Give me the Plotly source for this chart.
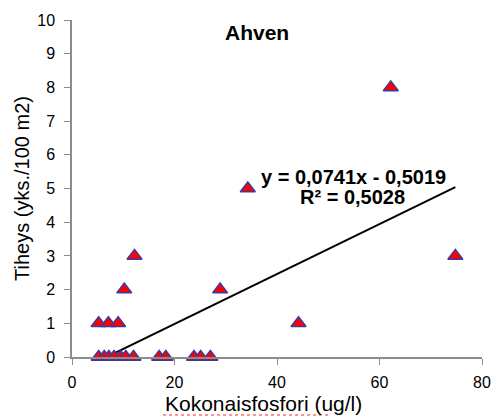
import plotly.graph_objects as go

# Data
fosfori = [5.2, 6.3, 7.2, 8.2, 9.5, 10.5, 12.0,
           5.2, 7.1, 9.0,
           10.2, 12.2,
           17.0, 18.3,
           23.8, 25.1, 27.0,
           28.9, 34.3, 44.2, 62.2, 74.8]
tiheys = [0, 0, 0, 0, 0, 0, 0,
          1, 1, 1,
          2, 3,
          0, 0,
          0, 0, 0,
          2, 5, 1, 8, 3]

slope = 0.0741
intercept = -0.5019
r2_text = "R² = 0,5028"
eq_text = "y = 0,0741x - 0,5019"
title_text = "Ahven"
x_title = "Kokonaisfosfori (ug/l)"
y_title = "Tiheys (yks./100 m2)"
x_ticks = [0, 20, 40, 60, 80]
y_ticks = list(range(0, 11))

FONT = "Liberation Sans, Arial, sans-serif"

x_line = [min(fosfori), max(fosfori)]
y_line = [slope * x + intercept for x in x_line]

fig = go.Figure()
fig.add_trace(go.Scatter(x=x_line, y=y_line, mode="lines",
                         line=dict(color="black", width=2), showlegend=False,
                         hoverinfo="skip"))
fig.add_trace(go.Scatter(x=fosfori, y=tiheys, mode="markers",
                         marker=dict(symbol="triangle-up", size=13, color="#ff0000",
                                     line=dict(color="#3b3b9e", width=1.5)),
                         showlegend=False, cliponaxis=False))

fig.add_annotation(x=36.0, y=9.62, xref="x", yref="y", text="<b>" + title_text + "</b>",
                   showarrow=False, font=dict(family=FONT, size=21, color="black"))
fig.add_annotation(x=55.0, y=5.34, xref="x", yref="y", text="<b>" + eq_text + "</b>",
                   showarrow=False, font=dict(family=FONT, size=20, color="black"))
fig.add_annotation(x=54.8, y=4.74, xref="x", yref="y", text="<b>" + r2_text + "</b>",
                   showarrow=False, font=dict(family=FONT, size=20, color="black"))

# x-axis title (placed slightly left of centre, as in the reference)
fig.add_annotation(x=0.468, y=-0.139, xref="paper", yref="paper", text=x_title,
                   showarrow=False, yanchor="middle",
                   font=dict(family=FONT, size=21, color="black"))
# spell-check style underline under the first word of the x-axis title
fig.add_shape(type="line", xref="paper", yref="paper", x0=0.222, x1=0.628,
              y0=-0.172, y1=-0.172, line=dict(color="#ff7070", width=1.5, dash="dot"))

fig.update_layout(
    width=503, height=418,
    margin=dict(l=72, r=12, t=19, b=61),
    paper_bgcolor="white", plot_bgcolor="white",
    font=dict(family=FONT, size=16, color="black"),
    xaxis=dict(range=[0, 80], tickvals=x_ticks, showgrid=False, zeroline=False,
               showline=True, linecolor="#8c8c8c", linewidth=1.5,
               ticks="outside", ticklen=6, tickcolor="#8c8c8c",
               ticklabelstandoff=4),
    yaxis=dict(range=[0, 10], tickvals=y_ticks, showgrid=False, zeroline=False,
               showline=True, linecolor="#8c8c8c", linewidth=1.5,
               ticks="outside", ticklen=6, tickcolor="#8c8c8c",
               ticklabelstandoff=6,
               title=dict(text=y_title, font=dict(size=20), standoff=2)),
)

fig.write_html("out.html")
